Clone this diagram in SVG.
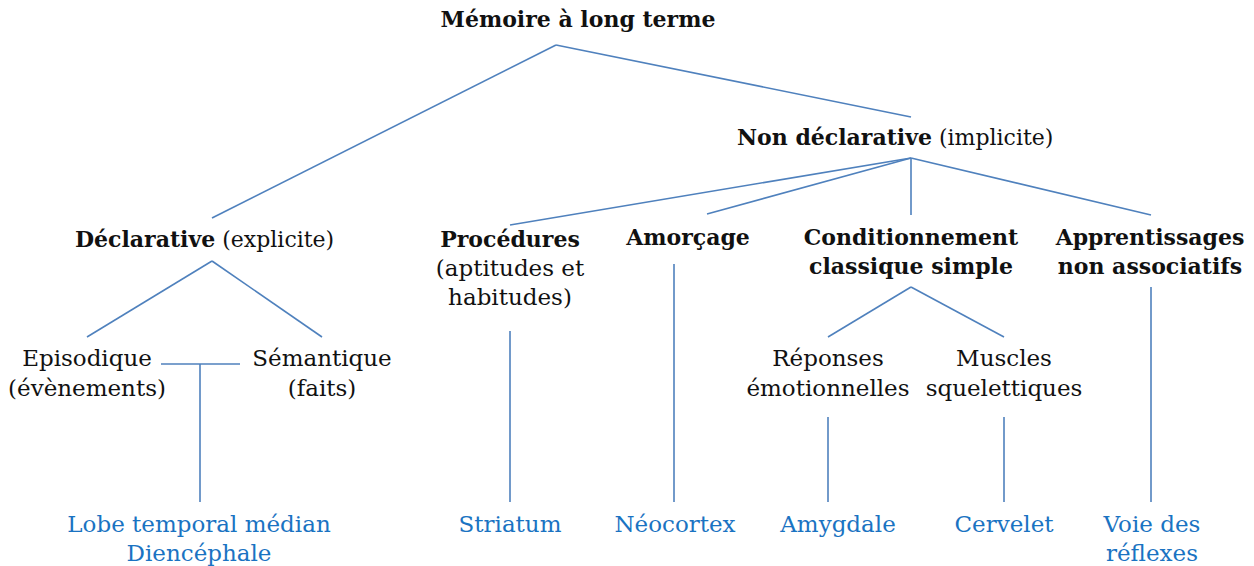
<svg xmlns="http://www.w3.org/2000/svg" width="1254" height="566" viewBox="0 0 1254 566">
<style>
text{font-family:"DejaVu Serif","Liberation Serif",serif;font-size:23px;fill:#111;text-anchor:middle}
.b{font-weight:bold;font-size:22px}
.s{text-anchor:start;font-size:22px}
.r{fill:#1a73c2}
.c line{stroke:#4f81bd;stroke-width:1.6;fill:none}
</style>
<rect width="1254" height="566" fill="#fff"/>
<g class="c" id="connectors">
<line x1="556" y1="45" x2="212" y2="218"/>
<line x1="556" y1="45" x2="911" y2="117"/>
<line x1="911" y1="158" x2="510" y2="225"/>
<line x1="911" y1="158" x2="707" y2="214"/>
<line x1="911" y1="158" x2="911" y2="215"/>
<line x1="911" y1="158" x2="1151" y2="215"/>
<line x1="212" y1="261" x2="87" y2="337"/>
<line x1="212" y1="261" x2="322" y2="337"/>
<line x1="161" y1="364" x2="240" y2="364"/>
<line x1="200" y1="364" x2="200" y2="502"/>
<line x1="510" y1="331" x2="510" y2="502"/>
<line x1="674" y1="264" x2="674" y2="502"/>
<line x1="911" y1="287" x2="828" y2="337"/>
<line x1="911" y1="287" x2="1004" y2="337"/>
<line x1="828" y1="417" x2="828" y2="502"/>
<line x1="1004" y1="417" x2="1004" y2="502"/>
<line x1="1151" y1="287" x2="1151" y2="502"/>
</g>
<g id="root"><text class="b" x="578" y="27">Mémoire à long terme</text></g>
<g id="nondecl"><text class="s" x="737" y="145"><tspan class="b">Non déclarative</tspan> (implicite)</text></g>
<g id="decl"><text class="s" x="75" y="247"><tspan class="b">Déclarative</tspan> (explicite)</text></g>
<g id="episodique"><text x="87" y="366">Episodique</text><text x="87" y="396">(évènements)</text></g>
<g id="semantique"><text x="322" y="366">Sémantique</text><text x="322" y="396">(faits)</text></g>
<g id="lobe"><text class="r" x="199" y="532">Lobe temporal médian</text><text class="r" x="199" y="561">Diencéphale</text></g>
<g id="procedures"><text class="b" x="510" y="247">Procédures</text><text x="510" y="276">(aptitudes et</text><text x="510" y="305">habitudes)</text></g>
<g id="striatum"><text class="r" x="510" y="532">Striatum</text></g>
<g id="amorcage"><text class="b" x="688" y="245">Amorçage</text></g>
<g id="neocortex"><text class="r" x="675" y="532">Néocortex</text></g>
<g id="conditionnement"><text class="b" x="911" y="245">Conditionnement</text><text class="b" x="911" y="274">classique simple</text></g>
<g id="reponses"><text x="828" y="366">Réponses</text><text x="828" y="396">émotionnelles</text></g>
<g id="muscles"><text x="1004" y="366">Muscles</text><text x="1004" y="396">squelettiques</text></g>
<g id="amygdale"><text class="r" x="838" y="532">Amygdale</text></g>
<g id="cervelet"><text class="r" x="1004" y="532">Cervelet</text></g>
<g id="apprentissages"><text class="b" x="1150" y="245">Apprentissages</text><text class="b" x="1150" y="274">non associatifs</text></g>
<g id="voie"><text class="r" x="1152" y="532">Voie des</text><text class="r" x="1152" y="561">réflexes</text></g>
</svg>
